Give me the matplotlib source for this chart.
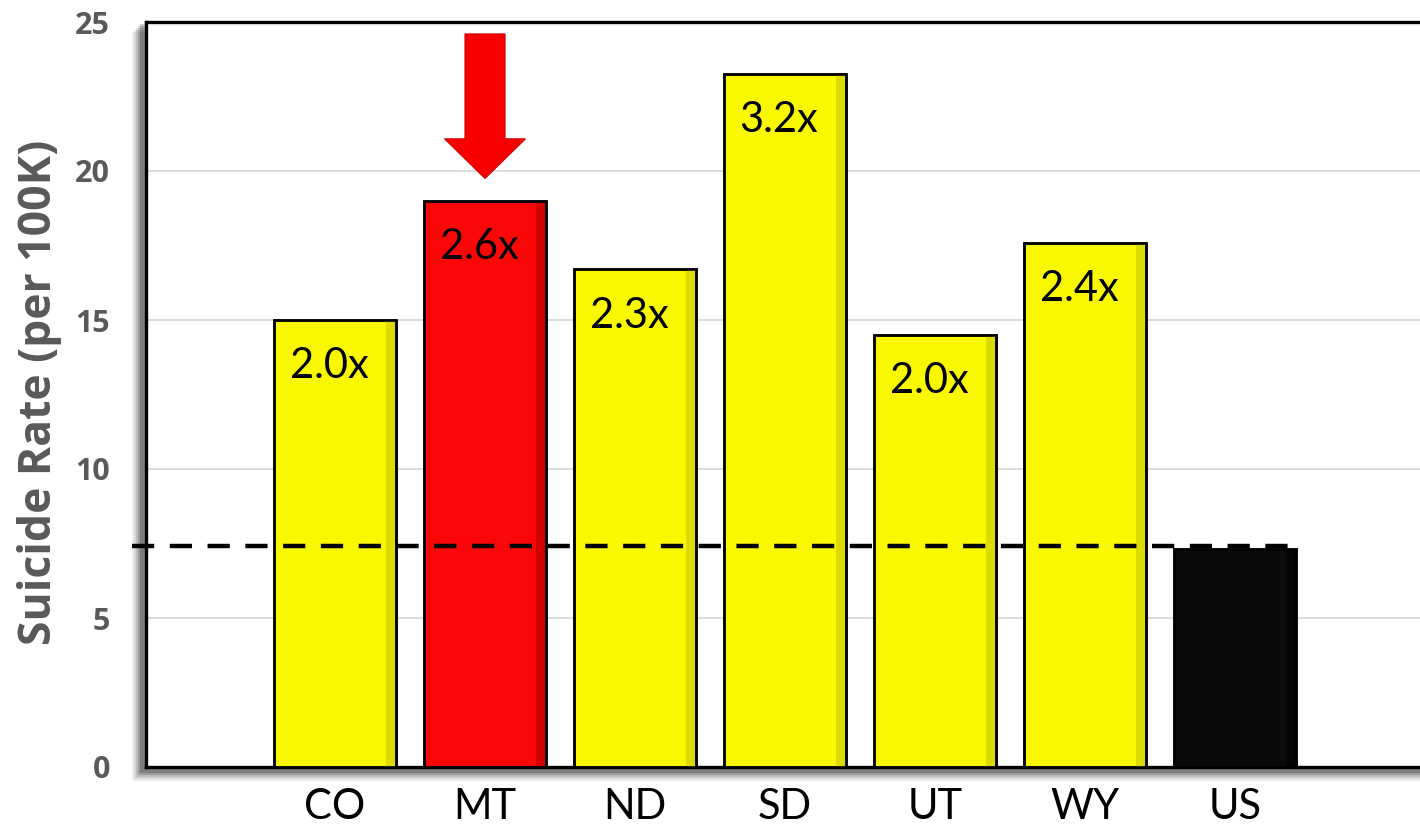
import matplotlib
matplotlib.use('Agg')
import matplotlib.pyplot as plt
from matplotlib.patches import FancyArrow, Rectangle
import numpy as np

# data
states = ['CO', 'MT', 'ND', 'SD', 'UT', 'WY', 'US']
rates = [15.0, 19.0, 16.7, 23.25, 14.5, 17.6, 7.3]
ratios = ['2.0x', '2.6x', '2.3x', '3.2x', '2.0x', '2.4x', '']
us_avg = 7.4
highlight = 'MT'

colors = []
for s in states:
    if s == highlight:
        colors.append('#fc0707')
    elif s == 'US':
        colors.append('#0b0b0b')
    else:
        colors.append('#f9f800')
shade = {'#fc0707': '#b80000', '#0b0b0b': '#000000', '#f9f800': '#c9c800'}

plt.rcParams['font.family'] = ['Lato', 'DejaVu Sans']

fig = plt.figure(figsize=(14.2, 8.24), dpi=100)
ax = fig.add_axes([146 / 1420, 1 - 767 / 824, 1 - 146 / 1420, (767 - 22) / 824])
ax.set_zorder(2)
ax.set_facecolor('white')

# soft shadow behind the frame (left and bottom)
for i, a in enumerate([0.07, 0.09, 0.12, 0.16, 0.2]):
    off = (5 - i) * 2.0
    fig.patches.append(Rectangle(((146 - 4 - off) / 1420, 1 - (767 + 4 + off) / 824),
                                 1.2, (767 - 22 + 4) / 824,
                                 transform=fig.transFigure, color='black',
                                 alpha=a, zorder=-1, lw=0))

x = np.arange(len(states))
w = 0.81
ax.bar(x, rates, width=w, color=colors, edgecolor='black', linewidth=1.8, zorder=3)
# darker bevel on the right side of each bar
ax.bar(x + w / 2 - 0.035, rates, width=0.06, color=[shade[c] for c in colors],
       linewidth=0, zorder=3.5, alpha=0.6)
ax.bar(x, rates, width=w, color='none', edgecolor='black', linewidth=1.8, zorder=4)

for xi, r, lab in zip(x, rates, ratios):
    if lab:
        ax.text(xi - 0.04, r - 1.55, lab, ha='center', va='center', fontsize=30,
                color='black', zorder=5)

# national average line
ax.plot([-1.35, x[-1] + w / 2], [us_avg, us_avg], color='black', lw=3.2,
        dashes=(5, 3.5), zorder=6, clip_on=False)

# arrow pointing at the highlighted state
hi = states.index(highlight)
arrow = FancyArrow(hi, 24.6, 0, 19.75 - 24.6, width=0.267, head_width=0.54,
                   head_length=1.33, length_includes_head=True,
                   facecolor='#f80000', edgecolor='#d00000', lw=0.8, zorder=6)
ax.add_patch(arrow)

ax.set_xlim(-1.26, 7.233)
ax.set_ylim(0, 25)
ax.set_yticks([0, 5, 10, 15, 20, 25])
ax.yaxis.grid(True, color='#d9d9d9', lw=1.3, zorder=0)
ax.set_axisbelow(True)
ax.set_xticks(x)
ax.set_xticklabels(states, fontsize=30, color='black')
ax.tick_params(axis='x', length=0, pad=15)
ax.tick_params(axis='y', length=0, pad=26, labelcolor='#595959')
for lab in ax.get_yticklabels():
    lab.set_fontfamily('Open Sans')
    lab.set_fontweight('bold')
    lab.set_fontsize(22)
ax.set_ylabel('Suicide Rate (per 100K)', fontsize=32, fontweight='bold',
              color='#595959', family='Open Sans')
ax.yaxis.set_label_coords(-0.066, 0.503)

for sp in ['left', 'top', 'bottom']:
    ax.spines[sp].set_linewidth(2.4)
    ax.spines[sp].set_color('black')
ax.spines['right'].set_visible(False)

fig.savefig('out.png', dpi=100)
